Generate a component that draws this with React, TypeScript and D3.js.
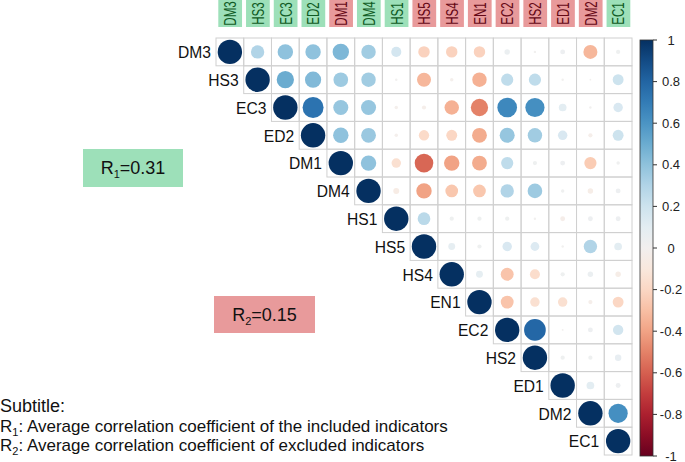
import React from "react";
import * as d3 from "d3";

// indicator order (rows = columns)
const labels = ["DM3", "HS3", "EC3", "ED2", "DM1", "DM4", "HS1", "HS5", "HS4", "EN1", "EC2", "HS2", "ED1", "DM2", "EC1"];
// true = included indicator (green header), false = excluded (red header)
const included = [true, true, true, true, false, true, true, false, false, false, false, false, false, false, true];

// upper triangle, row i holds correlations with columns i+1 .. 14
const upper = [
  [0.3, 0.4, 0.4, 0.45, 0.35, 0.17, -0.22, -0.22, -0.22, 0.05, 0.01, 0.04, -0.33, 0.03],
  [0.5, 0.44, 0.36, 0.35, 0.01, -0.33, -0.02, -0.35, 0.25, 0.25, 0.01, 0.005, 0.2],
  [0.74, 0.38, 0.38, -0.02, -0.03, -0.35, -0.5, 0.65, 0.62, 0.1, 0.01, 0.15],
  [0.4, 0.37, -0.02, -0.18, -0.2, -0.37, 0.38, 0.35, 0.15, -0.03, 0.2],
  [0.4, -0.15, -0.58, -0.4, -0.37, 0.25, 0.03, 0.04, -0.25, 0.02],
  [-0.06, -0.4, -0.27, -0.27, 0.3, 0.36, 0.02, -0.05, 0.04],
  [0.27, 0.03, 0.03, 0.03, 0.01, -0.04, 0.04, 0.04],
  [0.08, 0.03, 0.15, 0.13, 0.01, 0.3, 0.1],
  [0.08, -0.28, -0.17, 0.03, 0.05, -0.05],
  [-0.28, -0.15, -0.15, -0.03, -0.2],
  [0.79, 0.006, 0.04, 0.18],
  [0.03, 0.03, 0.07],
  [0.1, 0.04],
  [0.62],
];

const legendTicks = [1, 0.8, 0.6, 0.4, 0.2, 0, -0.2, -0.4, -0.6, -0.8, -1];

const FONT = "'Liberation Sans', Arial, sans-serif";
const GREEN_BG = "#9de0b9";
const RED_BG = "#e89a9b";

export default function App() {
  const width = 685;
  const height = 462;

  const x = d3.scaleBand().domain(labels).range([216, 632]);
  const y = d3.scaleBand().domain(labels).range([38, 455]);
  const rScale = d3.scaleSqrt().domain([0, 1]).range([0, 12.2]);
  const color = (v) => d3.interpolateRdBu((v + 1) / 2);
  const legendY = d3.scaleLinear().domain([-1, 1]).range([456, 40]);

  // flatten into cells (diagonal = 1)
  const cells = [];
  labels.forEach((rowLab, i) => {
    cells.push({ row: rowLab, col: rowLab, v: 1 });
    upper[i]?.forEach((v, k) => {
      cells.push({ row: rowLab, col: labels[i + 1 + k], v });
    });
  });

  const bw = x.bandwidth();
  const bh = y.bandwidth();
  const gradStops = d3.range(0, 1.0001, 0.05);

  return (
    <svg width={width} height={height} style={{ position: "absolute", left: 0, top: 0, background: "#fff" }} fontFamily={FONT}>
      <defs>
        <linearGradient id="rdbu" x1="0" y1="1" x2="0" y2="0">
          {gradStops.map((t) => (
            <stop key={t} offset={t} stopColor={d3.interpolateRdBu(t)} />
          ))}
        </linearGradient>
      </defs>

      {/* column headers */}
      {labels.map((lab, j) => {
        const cx = x(lab) + bw / 2;
        return (
          <g key={"h" + lab}>
            <rect x={x(lab) + 2.3} y={0} width={bw - 4} height={27} fill={included[j] ? GREEN_BG : RED_BG} />
            <text
              transform={`translate(${cx + 0.5},13.5) rotate(-90) scale(0.7,1)`}
              textAnchor="middle"
              dominantBaseline="central"
              fontSize={16.5}
              fill={included[j] ? "#0f5a24" : "#650816"}
            >
              {lab}
            </text>
          </g>
        );
      })}

      {/* grid cells */}
      {cells.map((c) => (
        <rect key={"c" + c.row + c.col} x={x(c.col)} y={y(c.row)} width={bw} height={bh} fill="none" stroke="#d0d0d0" strokeWidth={1} />
      ))}

      {/* circles */}
      {cells.map((c) => (
        <circle key={"p" + c.row + c.col} cx={x(c.col) + bw / 2} cy={y(c.row) + bh / 2} r={rScale(Math.abs(c.v))} fill={color(c.v)} />
      ))}

      {/* row labels */}
      {labels.map((lab) => (
        <text
          key={"r" + lab}
          transform={`translate(${x(lab) - 5},${y(lab) + bh / 2}) scale(0.92,1)`}
          textAnchor="end"
          dominantBaseline="central"
          fontSize={17}
          fill="#111"
        >
          {lab}
        </text>
      ))}

      {/* colour legend */}
      <rect x={640} y={legendY(1)} width={13} height={legendY(-1) - legendY(1)} fill="url(#rdbu)" stroke="#333" strokeWidth={0.8} />
      {legendTicks.map((t) => (
        <g key={"t" + t}>
          <line x1={653} x2={657} y1={legendY(t)} y2={legendY(t)} stroke="#333" strokeWidth={1} />
          <text x={671} y={legendY(t)} textAnchor="middle" dominantBaseline="central" fontSize={13} fill="#222">
            {t}
          </text>
        </g>
      ))}

      {/* R boxes */}
      <rect x={83} y={149} width={100} height={38} fill={GREEN_BG} />
      <text x={133} y={174} textAnchor="middle" fontSize={18} fill="#111">
        R<tspan fontSize={11} dy={4}>1</tspan>
        <tspan dy={-4}>=0.31</tspan>
      </text>
      <rect x={214} y={296} width={101} height={37} fill={RED_BG} />
      <text x={264.5} y={320.5} textAnchor="middle" fontSize={18} fill="#111">
        R<tspan fontSize={11} dy={4}>2</tspan>
        <tspan dy={-4}>=0.15</tspan>
      </text>

      {/* subtitle */}
      <text x={0} y={412} fontSize={18} fill="#111">Subtitle:</text>
      <text x={0} y={432} fontSize={17} fill="#111">
        R<tspan fontSize={11} dy={4}>1</tspan>
        <tspan dy={-4}>: Average correlation coefficient of the included indicators</tspan>
      </text>
      <text x={0} y={451} fontSize={17} fill="#111">
        R<tspan fontSize={11} dy={4}>2</tspan>
        <tspan dy={-4}>: Average correlation coefficient of excluded indicators</tspan>
      </text>
    </svg>
  );
}
